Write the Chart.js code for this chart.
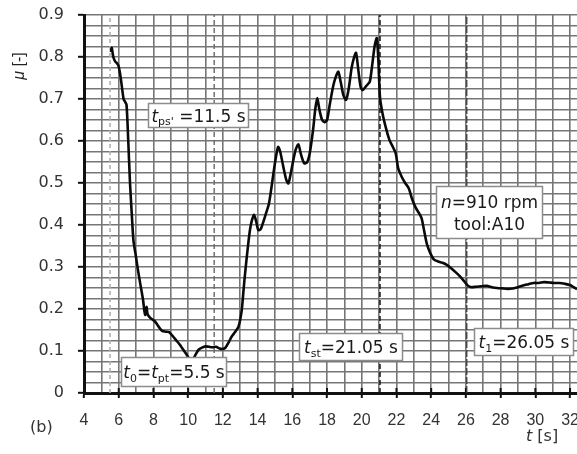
<!DOCTYPE html>
<html>
<head>
<meta charset="utf-8">
<script src="https://cdn.jsdelivr.net/npm/chart.js@4.4.1/dist/chart.umd.min.js"></script>
<style>
  html, body { margin: 0; padding: 0; background: #fff; overflow: hidden; }
  canvas { display: block; }
</style>
</head>
<body>
<canvas id="c" width="577" height="454"></canvas>
<script>
// Friction coefficient mu against time t for one run
const timeS = [
  5.55, 5.60, 5.66, 5.72, 5.80, 5.90, 5.98, 6.08, 6.18, 6.28, 6.36, 6.45, 6.55, 6.65, 6.75, 6.85,
  6.98, 7.10, 7.25, 7.40, 7.48, 7.53, 7.60, 7.66, 7.75, 7.90, 8.05, 8.20, 8.35, 8.50, 8.70, 8.90,
  9.10, 9.30, 9.50, 9.70, 9.90, 10.05, 10.20, 10.32, 10.45, 10.60, 10.80, 11.00, 11.20, 11.40, 11.60, 11.80,
  12.00, 12.15, 12.35, 12.50, 12.70, 12.90, 13.08, 13.18, 13.28, 13.42, 13.56, 13.68, 13.80, 13.92, 14.04, 14.18,
  14.35, 14.50, 14.65, 14.80, 14.92, 15.05, 15.18, 15.30, 15.48, 15.65, 15.77, 15.92, 16.06, 16.20, 16.35, 16.50,
  16.68, 16.85, 17.00, 17.20, 17.32, 17.44, 17.56, 17.70, 17.85, 18.00, 18.15, 18.35, 18.50, 18.65, 18.80, 18.95,
  19.10, 19.25, 19.42, 19.55, 19.67, 19.80, 19.93, 20.05, 20.20, 20.35, 20.47, 20.60, 20.75, 20.87, 20.96, 21.05,
  21.20, 21.40, 21.60, 21.80, 21.95, 22.10, 22.30, 22.50, 22.70, 22.90, 23.10, 23.30, 23.45, 23.60, 23.75, 23.95,
  24.15, 24.40, 24.65, 24.90, 25.15, 25.45, 25.70, 25.90, 26.10, 26.30, 26.60, 26.90, 27.20, 27.50, 27.80, 28.10,
  28.40, 28.70, 29.00, 29.30, 29.60, 29.90, 30.20, 30.50, 30.80, 31.10, 31.40, 31.70, 32.00, 32.20, 32.40
];
const mu = [
  0.812, 0.822, 0.806, 0.796, 0.789, 0.785, 0.780, 0.760, 0.730, 0.700, 0.694, 0.686, 0.600, 0.500, 0.428, 0.362,
  0.328, 0.295, 0.258, 0.222, 0.195, 0.186, 0.205, 0.188, 0.182, 0.176, 0.172, 0.164, 0.155, 0.148, 0.146, 0.145,
  0.136, 0.126, 0.116, 0.104, 0.092, 0.083, 0.079, 0.083, 0.093, 0.103, 0.108, 0.111, 0.110, 0.109, 0.110, 0.106,
  0.105, 0.108, 0.122, 0.134, 0.145, 0.158, 0.195, 0.240, 0.285, 0.340, 0.388, 0.412, 0.424, 0.408, 0.388, 0.390,
  0.410, 0.430, 0.450, 0.490, 0.525, 0.560, 0.586, 0.575, 0.539, 0.508, 0.499, 0.525, 0.555, 0.580, 0.592, 0.568,
  0.547, 0.549, 0.570, 0.628, 0.675, 0.702, 0.675, 0.652, 0.645, 0.650, 0.685, 0.730, 0.752, 0.765, 0.738, 0.708,
  0.698, 0.725, 0.775, 0.798, 0.810, 0.770, 0.730, 0.721, 0.728, 0.735, 0.742, 0.780, 0.828, 0.845, 0.790, 0.705,
  0.665, 0.630, 0.602, 0.585, 0.572, 0.535, 0.515, 0.500, 0.488, 0.462, 0.442, 0.428, 0.416, 0.385, 0.355, 0.333,
  0.318, 0.313, 0.310, 0.305, 0.297, 0.286, 0.276, 0.266, 0.256, 0.252, 0.253, 0.254, 0.255, 0.252, 0.250, 0.249,
  0.248, 0.249, 0.252, 0.256, 0.259, 0.262, 0.262, 0.264, 0.263, 0.262, 0.262, 0.260, 0.257, 0.252, 0.247
];

// Characteristic instants of the run (s)
const tStart = 5.5;   // t0 = tpt
const tPs = 11.5;     // tps'
const tSt = 21.05;    // tst
const tEnd = 26.05;   // t1
const markerTimes = [tStart, tPs, tSt, tEnd];

// Test conditions
const speedRpm = 910;
const toolName = 'A10';

// Axis labels
const xTickValues = [4, 6, 8, 10, 12, 14, 16, 18, 20, 22, 24, 26, 28, 30, 32];
const yTickValues = [0, 0.1, 0.2, 0.3, 0.4, 0.5, 0.6, 0.7, 0.8, 0.9];

const FONT = "'DejaVu Sans', Verdana, sans-serif";
const FONT_NARROW = "'Liberation Sans', Arial, sans-serif";
const fontStr = (size, italic, family) => (italic ? 'italic ' : '') + size + 'px ' + (family || FONT);

// Marker line styles, in the same order as markerTimes
const markerStyles = [
  { color: '#b0b0b0', dash: [4, 3], width: 1.6 },
  { color: '#666666', dash: [5, 3], width: 1.4 },
  { color: '#111111', dash: [5, 3], width: 1.5 },
  { color: '#3a3a3a', dash: [7, 2], width: 1.3 }
];

const curveData = timeS.map((t, i) => ({ x: t, y: mu[i] }));
const datasets = [{
  data: curveData,
  showLine: true,
  borderColor: '#0a0a0a',
  borderWidth: 2.6,
  pointRadius: 0,
  tension: 0.25,
  fill: false
}];
markerTimes.forEach((t, i) => {
  const s = markerStyles[i];
  datasets.push({
    data: [{ x: t, y: 0 }, { x: t, y: 0.9 }],
    showLine: true,
    borderColor: s.color,
    borderDash: s.dash,
    borderWidth: s.width,
    pointRadius: 0,
    fill: false
  });
});

// Rich text: runs of {t, it (italic), sub (subscript)}
function runsWidth(ctx, runs, size, family) {
  let w = 0;
  runs.forEach(r => {
    ctx.font = fontStr(r.sub ? Math.round(size * 0.66) : size, r.it, family);
    w += ctx.measureText(r.t).width;
  });
  return w;
}
function drawRuns(ctx, runs, x, baseline, size, family) {
  let cx = x;
  runs.forEach(r => {
    const s = r.sub ? Math.round(size * 0.66) : size;
    ctx.font = fontStr(s, r.it, family);
    ctx.fillText(r.t, cx, r.sub ? baseline + size * 0.22 : baseline);
    cx += ctx.measureText(r.t).width;
  });
}

// Text boxes: top-left corner in data units, size in px
const boxes = [
  { x: 7.69, y: 0.690, w: 100, h: 24, size: 17,
    lines: [[{ t: 't', it: true }, { t: "ps'", sub: true }, { t: ' =' + tPs + ' s' }]] },
  { x: 6.13, y: 0.086, w: 105, h: 29, size: 17,
    lines: [[{ t: 't', it: true }, { t: '0', sub: true }, { t: '=' }, { t: 't', it: true }, { t: 'pt', sub: true }, { t: '=' + tStart + ' s' }]] },
  { x: 16.38, y: 0.143, w: 103, h: 27, size: 17,
    lines: [[{ t: 't', it: true }, { t: 'st', sub: true }, { t: '=' + tSt + ' s' }]] },
  { x: 26.47, y: 0.155, w: 99, h: 27, size: 17,
    lines: [[{ t: 't', it: true }, { t: '1', sub: true }, { t: '=' + tEnd + ' s' }]] },
  { x: 24.28, y: 0.493, w: 106, h: 52, size: 17,
    lines: [[{ t: 'n', it: true }, { t: '=' + speedRpm + ' rpm' }], [{ t: 'tool:' + toolName }]] }
];

const decorPlugin = {
  id: 'decor',
  beforeDatasetsDraw(chart) {
    // tick marks on the time axis cross the axis line
    const ctx = chart.ctx;
    const xs = chart.scales.x;
    const yBase = chart.chartArea.bottom;
    ctx.save();
    ctx.strokeStyle = '#111';
    ctx.lineWidth = 2;
    xTickValues.forEach(v => {
      const px = xs.getPixelForValue(v);
      ctx.beginPath();
      ctx.moveTo(px, yBase - 5);
      ctx.lineTo(px, yBase);
      ctx.stroke();
    });
    ctx.restore();
  },
  afterDatasetsDraw(chart) {
    const ctx = chart.ctx;
    const xs = chart.scales.x, ys = chart.scales.y;
    ctx.save();
    boxes.forEach(b => {
      const px = Math.round(xs.getPixelForValue(b.x)) + 0.5;
      const py = Math.round(ys.getPixelForValue(b.y)) + 0.5;
      ctx.fillStyle = '#fff';
      ctx.fillRect(px, py, b.w, b.h);
      ctx.strokeStyle = '#8c8c8c';
      ctx.lineWidth = 1.5;
      ctx.strokeRect(px, py, b.w, b.h);
      ctx.fillStyle = '#1a1a1a';
      ctx.textBaseline = 'alphabetic';
      ctx.textAlign = 'left';
      const n = b.lines.length;
      const lineH = b.size * 1.3;
      b.lines.forEach((runs, i) => {
        const w = runsWidth(ctx, runs, b.size);
        const baseline = py + b.h / 2 + (i - (n - 1) / 2) * lineH + b.size * 0.36;
        drawRuns(ctx, runs, px + (b.w - w) / 2, baseline, b.size);
      });
    });
    ctx.restore();
  },
  afterDraw(chart) {
    const ctx = chart.ctx;
    ctx.save();
    ctx.fillStyle = '#333';
    ctx.textBaseline = 'alphabetic';
    ctx.textAlign = 'left';
    // panel letter
    ctx.font = fontStr(16, false);
    ctx.fillText('(b)', 30, 432);
    // time axis title
    drawRuns(ctx, [{ t: 't', it: true }, { t: ' [s]' }], 526, 441, 16);
    // friction axis title, rotated
    ctx.fillStyle = '#222';
    ctx.translate(24, 66);
    ctx.rotate(-Math.PI / 2);
    const runs = [{ t: 'μ', it: true }, { t: ' [-]' }];
    const w = runsWidth(ctx, runs, 16, FONT_NARROW);
    drawRuns(ctx, runs, -w / 2, 0, 16, FONT_NARROW);
    ctx.restore();
  }
};

const gridColor = '#767676';

new Chart(document.getElementById('c'), {
  type: 'scatter',
  data: { datasets },
  options: {
    responsive: false,
    animation: false,
    devicePixelRatio: 1,
    layout: { padding: { top: 15, left: 0, right: 0, bottom: 0 } },
    plugins: { legend: { display: false }, tooltip: { enabled: false } },
    scales: {
      x: {
        type: 'linear',
        min: 4,
        max: 32.4,
        grid: {
          color: gridColor,
          lineWidth: 1.6,
          tickLength: 5,
          tickWidth: 2,
          tickColor: c => (xTickValues.includes(c.tick.value) ? '#111' : 'rgba(0,0,0,0)')
        },
        border: { color: '#111', width: 3 },
        ticks: {
          stepSize: 1,
          maxTicksLimit: 100,
          includeBounds: false,
          autoSkip: false,
          maxRotation: 0,
          minRotation: 0,
          padding: 13,
          color: '#333',
          font: { family: FONT_NARROW, size: 16 },
          callback: v => (xTickValues.includes(v) ? String(v) : '')
        },
        afterFit: s => { s.height = 61; s.paddingLeft = 0; s.paddingRight = 0; }
      },
      y: {
        type: 'linear',
        min: 0,
        max: 0.9,
        grid: {
          color: gridColor,
          lineWidth: 1.6,
          tickLength: 6,
          tickWidth: 2,
          tickColor: c => (yTickValues.some(v => Math.abs(v - c.tick.value) < 1e-6) ? '#111' : 'rgba(0,0,0,0)')
        },
        border: { color: '#111', width: 3 },
        ticks: {
          stepSize: 0.025,
          maxTicksLimit: 100,
          autoSkip: false,
          padding: 14,
          color: '#333',
          font: { family: FONT, size: 16 },
          callback: v => {
            const hit = yTickValues.find(t => Math.abs(t - v) < 1e-6);
            return hit === undefined ? '' : String(hit);
          }
        },
        afterFit: s => { s.width = 84; s.paddingTop = 0; s.paddingBottom = 0; }
      }
    }
  },
  plugins: [decorPlugin]
});
</script>
</body>
</html>
